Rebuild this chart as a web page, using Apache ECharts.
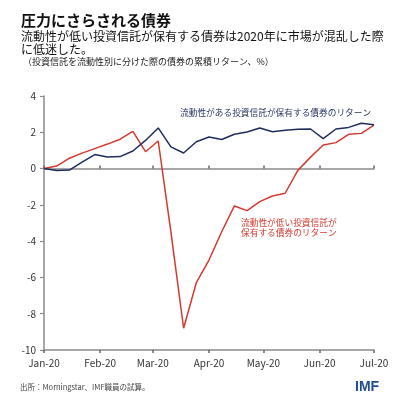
<!DOCTYPE html>
<html>
<head>
<meta charset="utf-8">
<script src="https://cdn.jsdelivr.net/npm/echarts@6/dist/echarts.min.js"></script>
<style>
  html, body { margin: 0; padding: 0; background: #fff; }
  #chart { width: 410px; height: 410px; }
</style>
</head>
<body>
<div id="chart"></div>
<script>
// weekly observations, Jan-01-2020 .. Jul-01-2020
const weekDates = ['2020-01-01', '2020-01-08', '2020-01-15', '2020-01-22', '2020-01-29',
  '2020-02-05', '2020-02-12', '2020-02-19', '2020-02-26', '2020-03-04', '2020-03-11',
  '2020-03-18', '2020-03-25', '2020-04-01', '2020-04-08', '2020-04-15', '2020-04-22',
  '2020-04-29', '2020-05-06', '2020-05-13', '2020-05-20', '2020-05-27', '2020-06-03',
  '2020-06-10', '2020-06-17', '2020-06-24', '2020-07-01']
const liquidReturns = [0, -0.1, -0.08, 0.35, 0.77, 0.64, 0.66, 0.97, 1.55, 2.24, 1.2,
  0.86, 1.48, 1.74, 1.6, 1.89, 2.02, 2.24, 2.03, 2.11, 2.17, 2.18, 1.65, 2.18, 2.27, 2.5, 2.42]
const illiquidReturns = [0, 0.14, 0.57, 0.85, 1.1, 1.35, 1.62, 2.05, 0.93, 1.52, -3.5,
  -8.8, -6.29, -5.04, -3.48, -2.06, -2.32, -1.82, -1.51, -1.36, -0.1, 0.63, 1.3, 1.43, 1.89, 1.94, 2.39]
const yTicks = { min: -10, max: 4, step: 2 }

const FONT = '"Noto Sans CJK JP", "Noto Sans", sans-serif'
const NAVY = '#1f2d5c'
const RED = '#d4392f'

const chart = echarts.init(document.getElementById('chart'))

const toPairs = (vals) => vals.map((v, i) => [weekDates[i], v])

const xBase = {
  type: 'time',
  min: '2020-01-01',
  max: '2020-07-01',
  splitNumber: 6,
  splitLine: { show: false }
}

chart.setOption({
  backgroundColor: '#ffffff',
  animation: false,
  textStyle: { fontFamily: FONT },
  title: [
    {
      text: '圧力にさらされる債券',
      left: 21, top: 13,
      padding: 0,
      textStyle: { fontSize: 15, fontWeight: 'bold', color: '#111', lineHeight: 15, fontFamily: FONT }
    },
    {
      text: '流動性が低い投資信託が保有する債券は2020年に市場が混乱した際\nに低迷した。',
      left: 21, top: 30,
      padding: 0,
      textStyle: { fontSize: 12, fontWeight: 'normal', color: '#111', lineHeight: 13, fontFamily: FONT }
    },
    {
      text: '（投資信託を流動性別に分けた際の債券の累積リターン、%）',
      left: 23, top: 57,
      padding: 0,
      textStyle: { fontSize: 9, fontWeight: 'normal', color: '#222', lineHeight: 10, fontFamily: FONT }
    }
  ],
  grid: { left: 44, right: 36, top: 96, bottom: 60, containLabel: false },
  xAxis: [
    Object.assign({}, xBase, {
      axisLine: { show: false, onZero: false },
      axisTick: { show: false },
      axisLabel: {
        formatter: '{MMM}-{yy}',
        color: '#333', fontSize: 10, margin: 8, fontFamily: FONT,
        showMinLabel: true, showMaxLabel: true
      }
    }),
    Object.assign({}, xBase, {
      position: 'bottom',
      axisLine: { show: true, onZero: true, lineStyle: { color: '#8a8a8a', width: 1.5 } },
      axisTick: { show: true, inside: true, length: 3, lineStyle: { color: '#666', width: 1.5 } },
      axisLabel: { show: false }
    }),
    Object.assign({}, xBase, {
      position: 'bottom',
      axisLine: { show: true, onZero: true, lineStyle: { color: '#8a8a8a', width: 1.5 } },
      axisTick: { show: true, inside: false, length: 3, lineStyle: { color: '#666', width: 1.5 } },
      axisLabel: { show: false }
    })
  ],
  yAxis: {
    type: 'value',
    min: yTicks.min,
    max: yTicks.max,
    interval: yTicks.step,
    axisLine: { show: true, lineStyle: { color: '#8a8a8a', width: 1.5 } },
    axisTick: { show: true, length: 4, lineStyle: { color: '#8a8a8a', width: 1.2 } },
    axisLabel: { color: '#333', fontSize: 10, margin: 8, fontFamily: FONT },
    splitLine: { show: false }
  },
  series: [
    {
      name: 'liquid',
      type: 'line',
      xAxisIndex: 0,
      data: toPairs(liquidReturns),
      symbol: 'none',
      lineStyle: { color: NAVY, width: 1.5 },
      z: 3
    },
    {
      name: 'illiquid',
      type: 'line',
      xAxisIndex: 0,
      data: toPairs(illiquidReturns),
      symbol: 'none',
      lineStyle: { color: RED, width: 1.5 },
      z: 2
    }
  ],
  graphic: [
    {
      type: 'text', left: 180, top: 108,
      style: { text: '流動性がある投資信託が保有する債券のリターン', fill: NAVY, font: '8.7px ' + FONT }
    },
    {
      type: 'text', left: 241, top: 217,
      style: { text: '流動性が低い投資信託が\n保有する債券のリターン', fill: RED, font: '8.7px ' + FONT, lineHeight: 10.5 }
    },
    {
      type: 'text', left: 20, top: 383,
      style: { text: '出所：Morningstar、IMF職員の試算。', fill: '#444', font: '7.5px ' + FONT }
    },
    {
      type: 'text', left: 355, top: 380,
      style: { text: 'IMF', fill: '#1f4e8c', font: 'bold 14px "Liberation Sans", sans-serif' }
    }
  ]
})
</script>
</body>
</html>
